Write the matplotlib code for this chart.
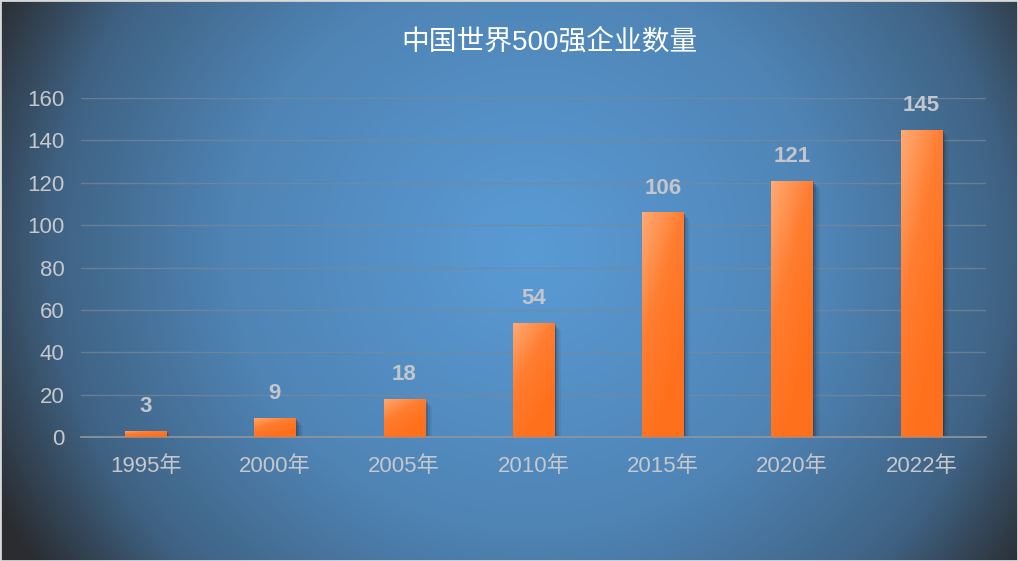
import numpy as np
import matplotlib.pyplot as plt
from matplotlib.colors import LinearSegmentedColormap
from matplotlib.patches import Rectangle

plt.rcParams['font.family'] = ['Liberation Sans', 'Noto Sans CJK SC']

# 数据
years = ['1995年', '2000年', '2005年', '2010年', '2015年', '2020年', '2022年']
counts = [3, 9, 18, 54, 106, 121, 145]
title = '中国世界500强企业数量'

W, H = 1018, 561
fig = plt.figure(figsize=(W / 100, H / 100), dpi=100)

# 背景：径向渐变
bg = fig.add_axes([0, 0, 1, 1], zorder=0)
yy, xx = np.mgrid[0:H, 0:W]
r = np.sqrt(((xx - 530) / 600.0) ** 2 + ((yy - 250) / 560.0) ** 2)
r = np.clip(r, 0, 1)
bg_cmap = LinearSegmentedColormap.from_list(
    'bg', [(0, '#5a9bd5'), (0.5, '#4f84b5'), (0.8, '#3f6283'),
           (1, '#2a2c30')])
bg.imshow(r, cmap=bg_cmap, vmin=0, vmax=1, aspect='auto', interpolation='bilinear')
bg.set_axis_off()
bg.add_patch(Rectangle((0, 0), 1, 1, transform=bg.transAxes, fill=False,
                       edgecolor='#d8d8d8', lw=2))

ax = fig.add_axes([81 / W, 1 - 437 / H, 905 / W, 339 / H], zorder=1)
ax.patch.set_alpha(0)

x = np.arange(len(years))
bw = 0.32
px_x = len(years) / 905.0
px_y = 160 / 339.0

bar_cmap = LinearSegmentedColormap.from_list(
    'bar', [(0, '#ffaa74'), (0.5, '#ff7d30'), (1, '#ff701c')])

for xi, v in zip(x, counts):
    x0 = xi - bw / 2
    # 阴影
    for k, a in [(7, 0.06), (5, 0.10), (3, 0.16), (1.5, 0.22)]:
        ax.add_patch(Rectangle((x0 + k * px_x, 0), bw, max(v - k * px_y, 0),
                               facecolor='#0d1a26', alpha=a, lw=0, zorder=2))
    # 渐变柱子
    gx = np.linspace(0, 1, 50)
    gy = np.linspace(0, 1, 200)
    GX, GY = np.meshgrid(gx, gy)
    grad = np.clip((GX * 0.6 + GY * 1.0) / 1.2, 0, 1)
    im = ax.imshow(grad, cmap=bar_cmap, vmin=0, vmax=1, aspect='auto',
                   extent=[x0, x0 + bw, 0, v], origin='upper', zorder=3,
                   interpolation='bilinear')
    rect = Rectangle((x0, 0), bw, v, facecolor='none', lw=0, zorder=3)
    ax.add_patch(rect)
    im.set_clip_path(rect)
    ax.annotate(str(v), (xi, v), xytext=(0, 10), textcoords='offset points',
                ha='center', va='bottom', fontsize=16, fontweight='bold',
                color='#c3c6cc', zorder=4)

ax.set_xlim(-0.5, len(years) - 0.5)
ax.set_ylim(0, 160)
ax.set_yticks(range(0, 161, 20))
ax.set_xticks(x)
ax.set_xticklabels(years)
ax.tick_params(axis='both', length=0, labelsize=16, labelcolor='#c6c8cc')
ax.tick_params(axis='x', pad=14)
ax.tick_params(axis='y', pad=12)
ax.grid(axis='y', color='#7a8896', lw=1, alpha=0.7)
ax.set_axisbelow(True)
for s in ['top', 'right', 'left']:
    ax.spines[s].set_visible(False)
ax.spines['bottom'].set_color('#8e969f')
ax.spines['bottom'].set_linewidth(1.2)

fig.text(549 / W, 1 - 42 / H, title, ha='center', va='center',
         fontsize=20, color='white')

fig.savefig('out.png', dpi=100)
